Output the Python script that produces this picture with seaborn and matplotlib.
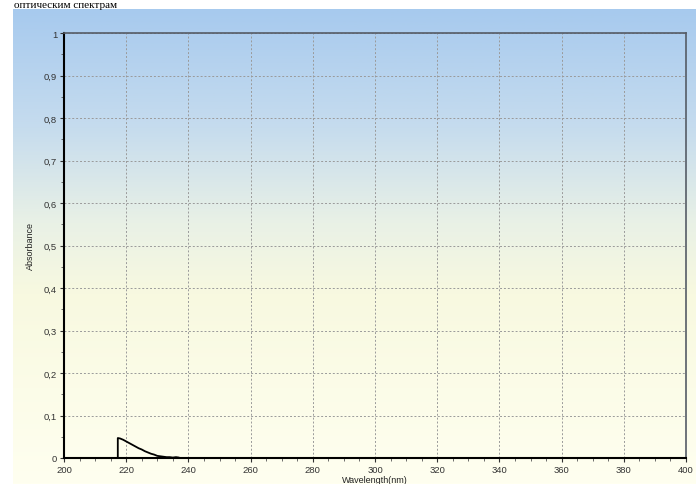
import numpy as np
import pandas as pd
import seaborn as sns
import matplotlib
matplotlib.use("Agg")
import matplotlib.pyplot as plt
from matplotlib.ticker import MultipleLocator, FuncFormatter
from matplotlib.colors import LinearSegmentedColormap

# data
wavelength = [217.3, 217.3, 218, 219, 220, 221, 222, 223, 224, 225, 226, 227,
              228, 229, 230, 231, 232, 233, 234, 235, 236, 237]
absorbance = [0.0, 0.047, 0.046, 0.043, 0.039, 0.035, 0.031, 0.027, 0.023, 0.020,
              0.016, 0.013, 0.010, 0.008, 0.005, 0.004, 0.003, 0.002, 0.002,
              0.001, 0.002, 0.001]
x_ticks = [200, 220, 240, 260, 280, 300, 320, 340, 360, 380, 400]
y_ticks = [0, 0.1, 0.2, 0.3, 0.4, 0.5, 0.6, 0.7, 0.8, 0.9, 1.0]

df = pd.DataFrame({"Wavelength": wavelength, "Absorbance": absorbance})

sns.set_theme(style="white")
plt.rcParams['font.family'] = ['Liberation Sans', 'DejaVu Sans']

W, H = 696, 485
fig = plt.figure(figsize=(W / 100, H / 100), dpi=100)
fig.patch.set_facecolor("white")

# gradient background
bg = fig.add_axes([13 / W, 0, 1 - 13 / W, 1 - 10 / H], zorder=-5)
cmap = LinearSegmentedColormap.from_list(
    "bg", [(0.0, "#A7CAEE"), (0.25, "#C6DCEE"), (0.45, "#E9F1E6"),
           (0.60, "#F8F9E0"), (1.0, "#FFFFF0")])
grad = np.linspace(0, 1, 256).reshape(-1, 1)
bg.imshow(grad, aspect="auto", cmap=cmap, extent=[0, 1, 0, 1], origin="upper")
bg.set_axis_off()

ax = fig.add_axes([64 / W, 1 - 459 / H, (686 - 64) / W, (459 - 34) / H])
ax.set_facecolor("none")

sns.lineplot(data=df, x="Wavelength", y="Absorbance", ax=ax, sort=False,
             estimator=None, color="black", linewidth=1.3, zorder=5)

ax.set_xlim(200, 400)
ax.set_ylim(0, 1)
ax.set_xticks(x_ticks)
ax.set_yticks(y_ticks)
ax.xaxis.set_minor_locator(MultipleLocator(5))
ax.yaxis.set_minor_locator(MultipleLocator(0.05))

def fmt(v, pos):
    if abs(v - round(v)) < 1e-9:
        return str(int(round(v)))
    return f"{v:.1f}".replace(".", ",")

ax.yaxis.set_major_formatter(FuncFormatter(fmt))
ax.xaxis.set_major_formatter(FuncFormatter(fmt))

ax.tick_params(axis="both", which="major", direction="out", length=3, width=0.8,
               labelsize=6.8, color="#333333", labelcolor="#333333", pad=2,
               left=True, bottom=True)
ax.tick_params(axis="both", which="minor", direction="out", length=2, width=0.6,
               color="#555555", left=True, bottom=True)

ax.grid(True, which="major", color="#9a9a9a", linestyle=(0, (2, 2)),
        linewidth=0.7)

for side in ["left", "bottom"]:
    ax.spines[side].set_color("black")
    ax.spines[side].set_linewidth(1.5)
for side in ["top", "right"]:
    ax.spines[side].set_color("#555c66")
    ax.spines[side].set_linewidth(1.2)
    ax.spines[side].set_visible(True)

ax.set_xlabel("Wavelength(nm)", fontsize=6.5, labelpad=1, color="#222222")
ax.set_ylabel("Absorbance", fontsize=6.5, labelpad=6, color="#222222")

fig.text(14 / W, 1 - 8 / H, "оптическим спектрам", fontsize=8,
         family=["Liberation Serif", "DejaVu Serif"], va="baseline", ha="left",
         color="black")

fig.savefig("out.png", dpi=100)
